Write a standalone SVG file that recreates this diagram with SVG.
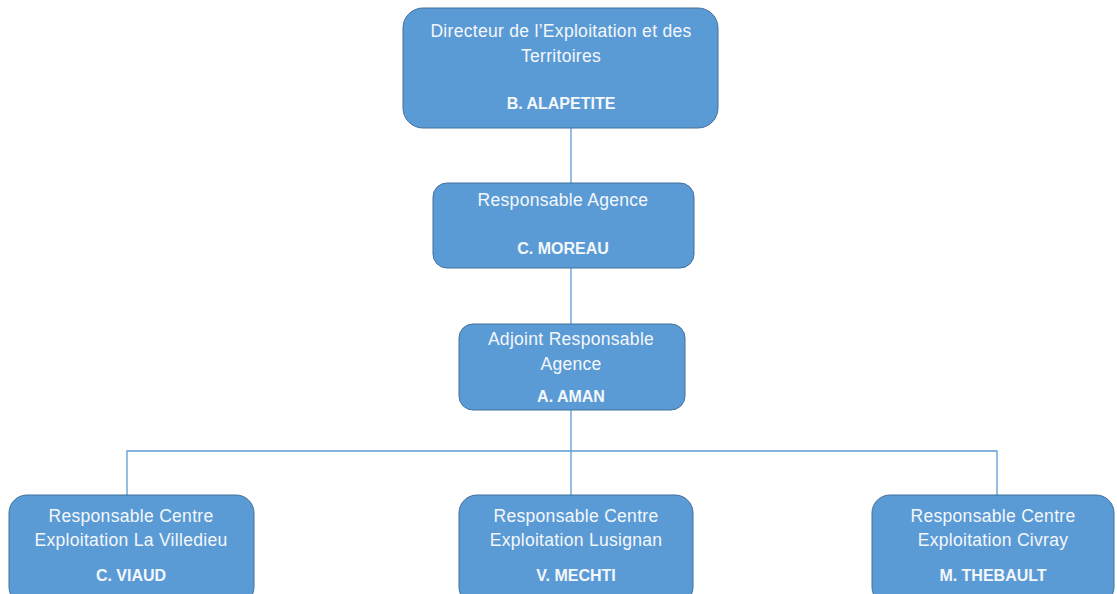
<svg xmlns="http://www.w3.org/2000/svg" width="1117" height="594" viewBox="0 0 1117 594">
<style>
.box{fill:#5b9bd5;stroke:#41719c;stroke-width:1}
.t{font-family:"Liberation Sans",Arial,sans-serif;font-size:17.5px;letter-spacing:0.3px;fill:#f4f7fb;text-anchor:middle}
.b{font-weight:bold;font-size:16px;letter-spacing:0}
.c{fill:none;stroke:#5b9bd5;stroke-width:1.3}
</style>
<rect width="1117" height="594" fill="#ffffff"/>
<g id="connectors">
<line class="c" x1="571" y1="128" x2="571" y2="183"/>
<line class="c" x1="571" y1="268" x2="571" y2="324"/>
<line class="c" x1="571" y1="410" x2="571" y2="495"/>
<polyline class="c" points="127,495 127,451 997,451 997,495"/>
</g>
<g id="n1">
<rect class="box" x="403" y="8" width="315" height="120" rx="20"/>
<text class="t" x="561" y="37">Directeur de l’Exploitation et des</text>
<text class="t" x="561" y="62">Territoires</text>
<text class="t b" x="561" y="109">B. ALAPETITE</text>
</g>
<g id="n2">
<rect class="box" x="433" y="183" width="261" height="85" rx="14"/>
<text class="t" x="563" y="206">Responsable Agence</text>
<text class="t b" x="563" y="254">C. MOREAU</text>
</g>
<g id="n3">
<rect class="box" x="459" y="324" width="226" height="86" rx="14"/>
<text class="t" x="571" y="345">Adjoint Responsable</text>
<text class="t" x="571" y="370">Agence</text>
<text class="t b" x="571" y="402">A. AMAN</text>
</g>
<g id="n4">
<rect class="box" x="9" y="495" width="245" height="110" rx="18"/>
<text class="t" x="131" y="522">Responsable Centre</text>
<text class="t" x="131" y="546">Exploitation La Villedieu</text>
<text class="t b" x="131" y="581">C. VIAUD</text>
</g>
<g id="n5">
<rect class="box" x="459" y="495" width="234" height="110" rx="18"/>
<text class="t" x="576" y="522">Responsable Centre</text>
<text class="t" x="576" y="546">Exploitation Lusignan</text>
<text class="t b" x="576" y="581">V. MECHTI</text>
</g>
<g id="n6">
<rect class="box" x="872" y="495" width="242" height="110" rx="18"/>
<text class="t" x="993" y="522">Responsable Centre</text>
<text class="t" x="993" y="546">Exploitation Civray</text>
<text class="t b" x="993" y="581">M. THEBAULT</text>
</g>
</svg>
